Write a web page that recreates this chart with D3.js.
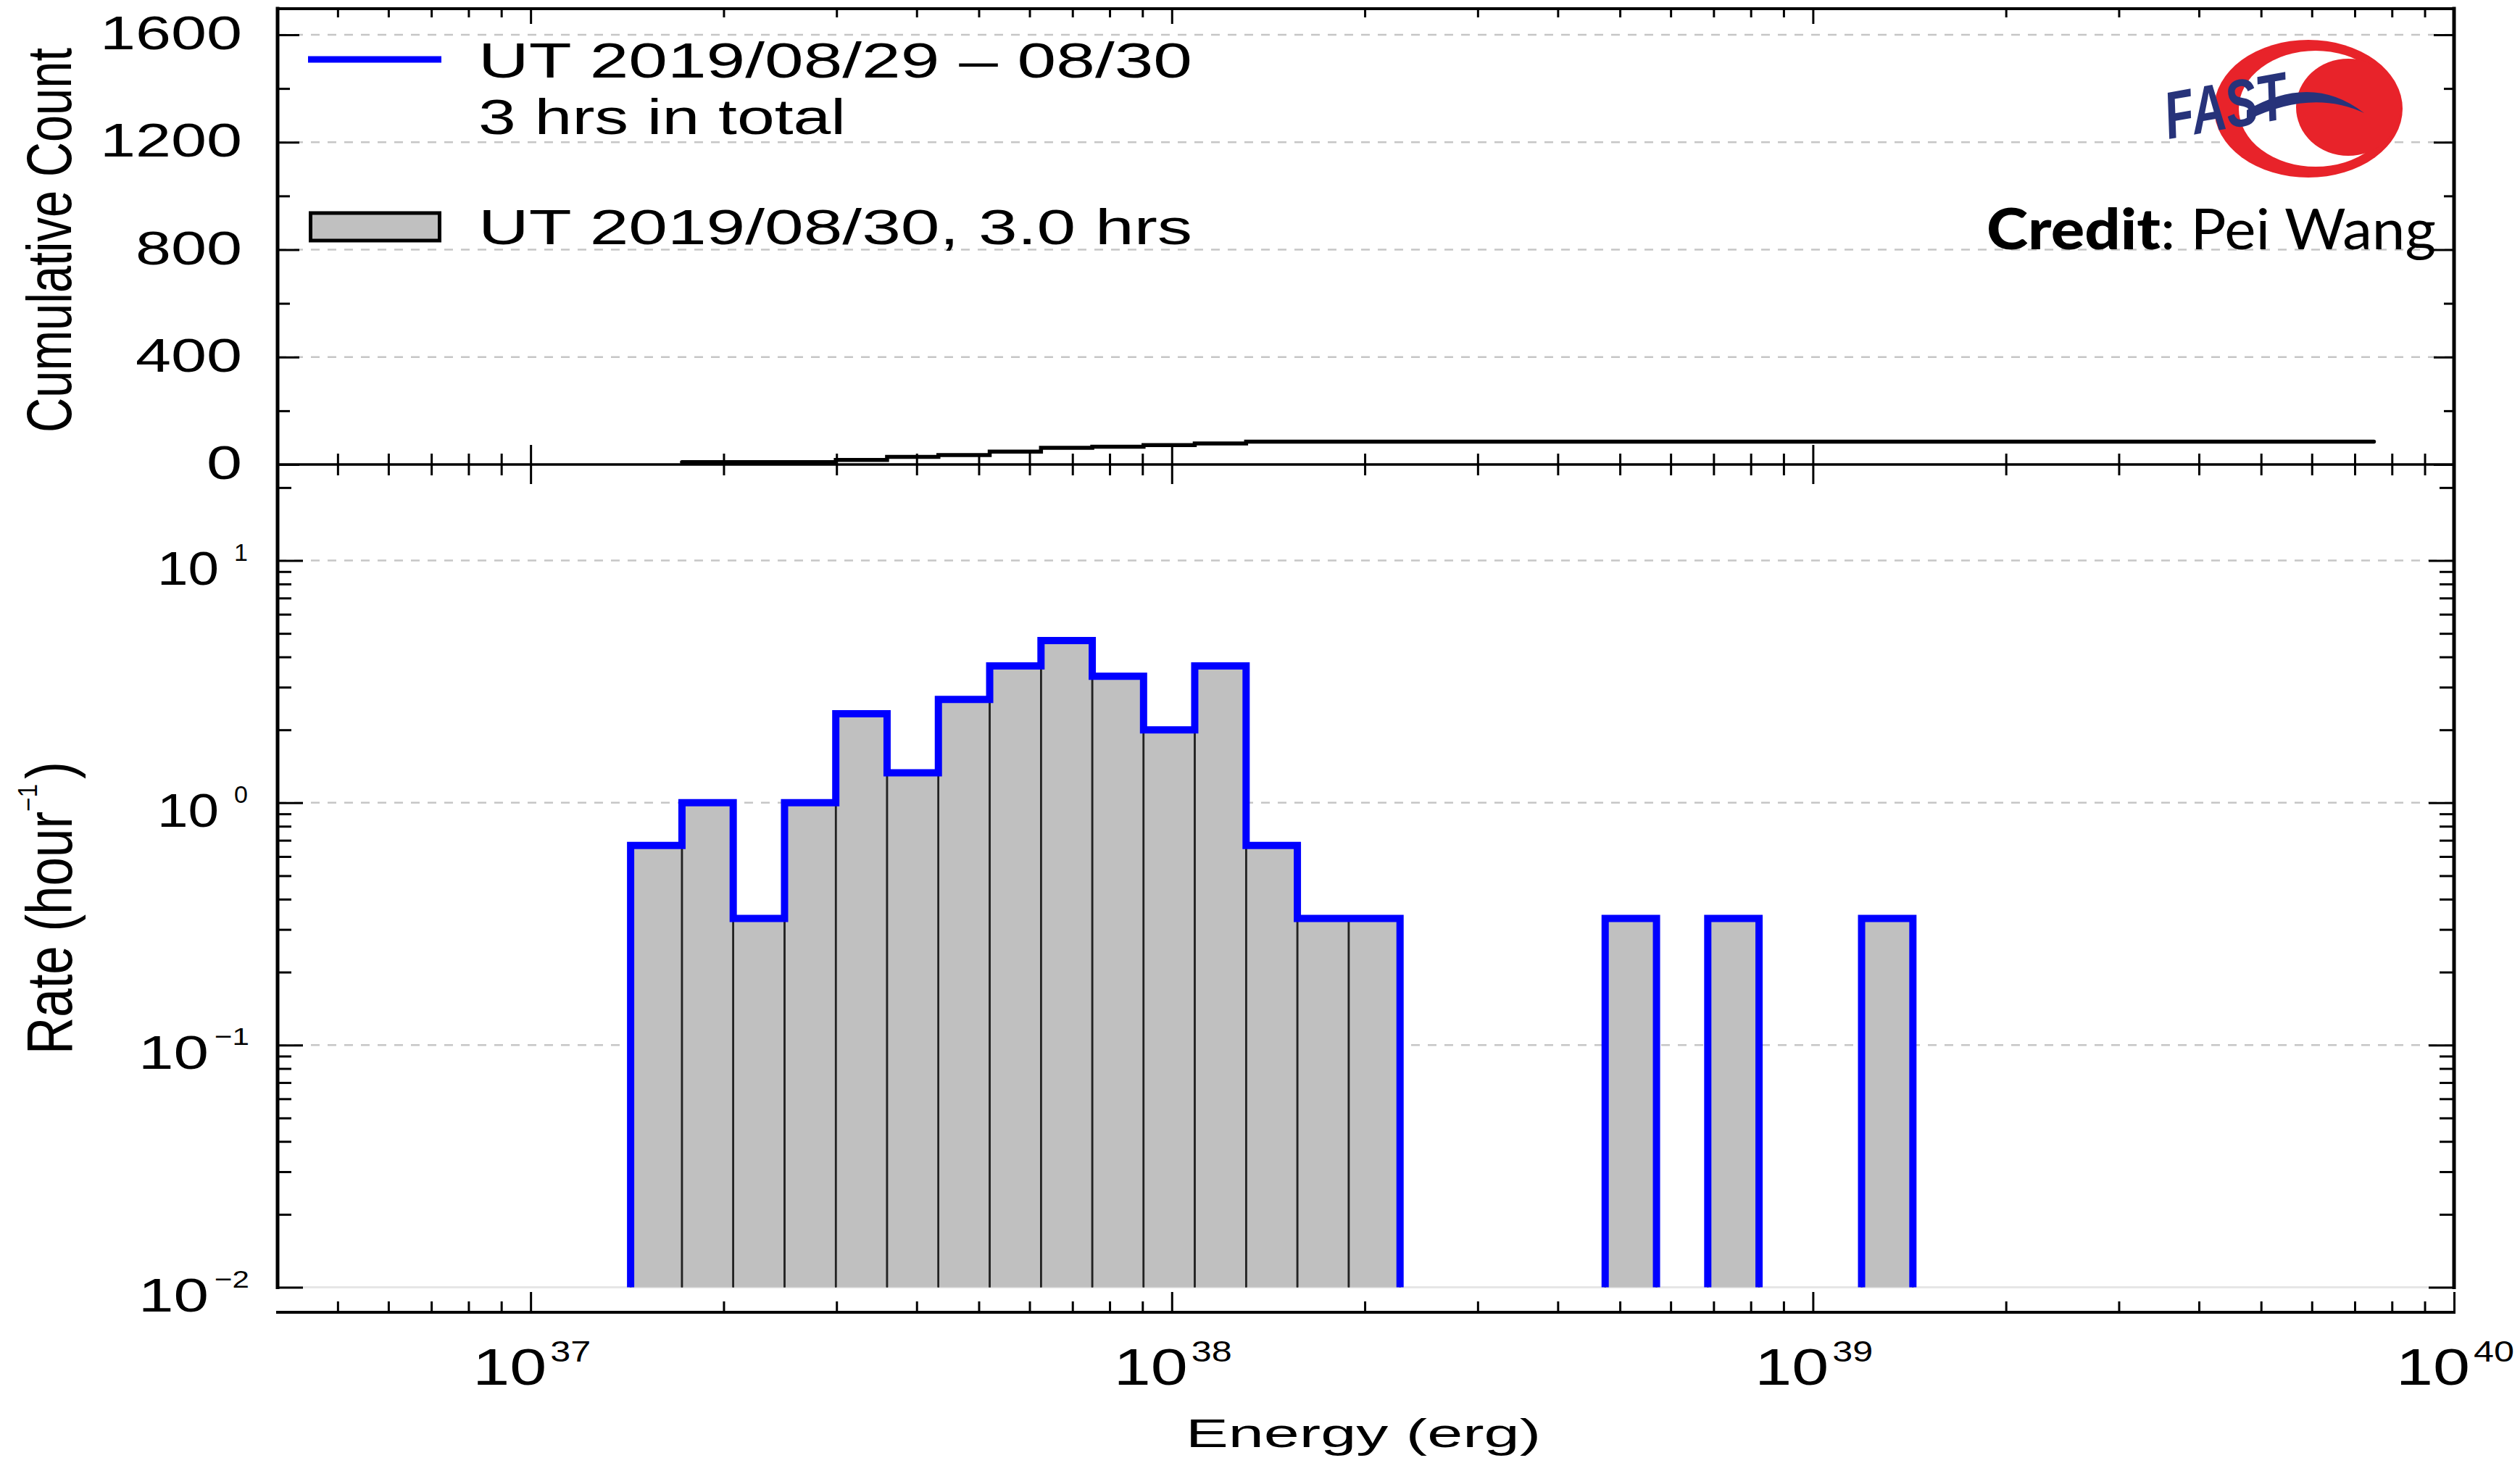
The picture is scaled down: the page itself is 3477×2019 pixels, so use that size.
<!DOCTYPE html>
<html><head><meta charset="utf-8">
<script src="https://cdn.jsdelivr.net/npm/d3@7"></script>
<style>html,body{margin:0;padding:0;background:#fff;} svg{display:block;}</style>
</head><body>
<script>
// ---------------- data ----------------
const binLow  = [1.432e37, 1.722e37, 2.070e37, 2.489e37, 2.992e37, 3.597e37, 4.325e37, 5.200e37, 6.252e37, 7.516e37, 9.036e37, 1.086e38, 1.306e38, 1.570e38, 1.888e38, 4.742e38, 6.855e38, 1.191e39];
const binHigh = [1.722e37, 2.070e37, 2.489e37, 2.992e37, 3.597e37, 4.325e37, 5.200e37, 6.252e37, 7.516e37, 9.036e37, 1.086e38, 1.306e38, 1.570e38, 1.888e38, 2.270e38, 5.702e38, 8.241e38, 1.432e39];
const rate    = [0.667, 1.0, 0.333, 1.0, 2.33, 1.33, 2.67, 3.67, 4.67, 3.33, 2.0, 3.67, 0.667, 0.333, 0.333, 0.333, 0.333, 0.333];
const cumEnergy = [1.722e37, 2.992e37, 3.597e37, 4.325e37, 5.200e37, 6.252e37, 7.516e37, 9.036e37, 1.086e38, 1.306e38, 7.5e39];
const cumCount  = [9, 17, 28, 35, 48, 62, 66, 72, 78, 85, 85];
const countTicks = [0, 400, 800, 1200, 1600];
const countMinor = [200, 600, 1000, 1400];
const countGrid = [400, 800, 1200, 1600];
const rateTicks = [0.01, 0.1, 1, 10];
const rateExp = ["\u22122", "\u22121", "0", "1"];
const energyTicks = [1e37, 1e38, 1e39, 1e40];
const energyExp = ["37", "38", "39", "40"];
const legendLabels = ["UT 2019/08/29 \u2013 08/30", "3 hrs in total", "UT 2019/08/30, 3.0 hrs"];

// ---------------- layout ----------------
const W = 3477, H = 2019;
const L = 383, R = 3386, TOP = 12, MID = 641, LOWB = 1776.5, XAX = 1811;
const FONT = "'Liberation Sans', Arial, Helvetica, sans-serif";

const svg = d3.select("body").append("svg").attr("width", W).attr("height", H)
  .style("font-family", FONT);
svg.append("rect").attr("width", W).attr("height", H).attr("fill", "#fff");

const x = d3.scaleLog().domain([4.03e36, 1e40]).range([L, R]);
const yTop = d3.scaleLinear().domain([0, 1600]).range([MID, 48]);
const yBot = d3.scaleLog().domain([0.01, 10]).range([LOWB, 773.5]);

// ---------------- grid ----------------
const grid = svg.append("g");
grid.selectAll("line.gt").data(countGrid).join("line")
  .attr("x1", L).attr("x2", R).attr("y1", d => yTop(d)).attr("y2", d => yTop(d))
  .attr("stroke", "#c6c6c6").attr("stroke-width", 2.5).attr("stroke-dasharray", "12,11");
grid.selectAll("line.gb").data(rateTicks.filter(d => d > 0.01)).join("line")
  .attr("x1", L).attr("x2", R).attr("y1", d => yBot(d)).attr("y2", d => yBot(d))
  .attr("stroke", "#c6c6c6").attr("stroke-width", 2.5).attr("stroke-dasharray", "12,11");
svg.append("line").attr("x1", L).attr("x2", R).attr("y1", yBot(0.01)).attr("y2", yBot(0.01))
  .attr("stroke", "#e6e6e6").attr("stroke-width", 3);

// ---------------- histogram ----------------
const bins = binLow.map((lo, i) => ({lo, hi: binHigh[i], r: rate[i]}));
const hist = svg.append("g");
hist.selectAll("rect").data(bins).join("rect")
  .attr("x", d => x(d.lo)).attr("width", d => x(d.hi) - x(d.lo))
  .attr("y", d => yBot(d.r)).attr("height", d => yBot(0.01) - yBot(d.r))
  .attr("fill", "#c0c0c0");
const edges = [];
bins.forEach(d => { edges.push({e: d.lo, r: d.r}); edges.push({e: d.hi, r: d.r}); });
hist.selectAll("line").data(edges).join("line")
  .attr("x1", d => x(d.e)).attr("x2", d => x(d.e))
  .attr("y1", yBot(0.01)).attr("y2", d => yBot(d.r))
  .attr("stroke", "#222").attr("stroke-width", 2.5);

// blue outline runs
const runs = []; let cur = null;
bins.forEach((b, i) => {
  if (cur && Math.abs(b.lo / bins[i - 1].hi - 1) < 1e-3) cur.push(b);
  else { cur = [b]; runs.push(cur); }
});
runs.forEach(run => {
  const p = d3.path();
  p.moveTo(x(run[0].lo), yBot(0.01));
  run.forEach(b => { p.lineTo(x(b.lo), yBot(b.r)); p.lineTo(x(b.hi), yBot(b.r)); });
  p.lineTo(x(run[run.length - 1].hi), yBot(0.01));
  svg.append("path").attr("d", p.toString()).attr("fill", "none")
    .attr("stroke", "#0000ff").attr("stroke-width", 10).attr("stroke-linejoin", "miter");
});

// ---------------- cumulative line ----------------
const cumPts = cumEnergy.map((e, i) => [e, cumCount[i]]);
svg.append("path").datum(cumPts)
  .attr("d", d3.line().x(d => x(d[0])).y(d => yTop(d[1])).curve(d3.curveStepAfter))
  .attr("fill", "none").attr("stroke", "#000").attr("stroke-width", 5.5).attr("stroke-linecap", "round");

// ---------------- axes / ticks ----------------
function ticks(axisFn, scale, vals, size, tx, ty, sw) {
  const g = svg.append("g").attr("transform", `translate(${tx},${ty})`)
    .call(axisFn(scale).tickValues(vals).tickSize(size).tickFormat(""));
  g.select(".domain").remove();
  g.selectAll("line").attr("stroke", "#000").attr("stroke-width", sw || 3);
  g.selectAll("text").remove();
  return g;
}
const isPow = v => Math.abs(Math.log10(v) - Math.round(Math.log10(v))) < 1e-6;
const xMinor = x.ticks().filter(v => !isPow(v));
const yMinor = yBot.ticks().filter(v => !isPow(v)).concat([20]);

// top border (ticks down)
ticks(d3.axisBottom, x, energyTicks, 21, 0, TOP);
ticks(d3.axisBottom, x, xMinor, 12, 0, TOP);
// middle line, crossing ticks
ticks(d3.axisTop, x, energyTicks, 27, 0, MID);
ticks(d3.axisBottom, x, energyTicks, 27, 0, MID);
ticks(d3.axisTop, x, xMinor, 15, 0, MID);
ticks(d3.axisBottom, x, xMinor, 15, 0, MID);
// bottom energy axis (ticks up)
ticks(d3.axisTop, x, energyTicks, 28, 0, XAX);
ticks(d3.axisTop, x, xMinor, 15, 0, XAX);
// top panel y
ticks(d3.axisRight, yTop, countTicks, 30, L, 0);
ticks(d3.axisRight, yTop, countMinor, 17, L, 0);
ticks(d3.axisLeft, yTop, countTicks, 28, R, 0);
ticks(d3.axisLeft, yTop, countMinor, 14, R, 0);
// lower panel y
ticks(d3.axisRight, yBot, rateTicks, 35, L, 0);
ticks(d3.axisRight, yBot, yMinor, 19, L, 0);
ticks(d3.axisLeft, yBot, rateTicks, 35, R, 0);
ticks(d3.axisLeft, yBot, yMinor, 20, R, 0);

// frame lines
const frame = svg.append("g").attr("stroke", "#000").attr("stroke-linecap", "square");
frame.append("line").attr("x1", L).attr("x2", R).attr("y1", TOP).attr("y2", TOP).attr("stroke-width", 4);
frame.append("line").attr("x1", L).attr("x2", R).attr("y1", MID).attr("y2", MID).attr("stroke-width", 3.5);
frame.append("line").attr("x1", L).attr("x2", R).attr("y1", XAX).attr("y2", XAX).attr("stroke-width", 4);
frame.append("line").attr("x1", L).attr("x2", L).attr("y1", TOP).attr("y2", LOWB).attr("stroke-width", 5);
frame.append("line").attr("x1", R).attr("x2", R).attr("y1", TOP).attr("y2", LOWB).attr("stroke-width", 5);

// ---------------- text helper ----------------
function txt(parent, s, xx, yy, size, len, attrs) {
  const t = parent.append("text").attr("x", xx).attr("y", yy).attr("font-size", size)
    .attr("fill", "#000").text(s);
  if (len) t.attr("textLength", len).attr("lengthAdjust", "spacingAndGlyphs");
  if (attrs) Object.entries(attrs).forEach(([k, v]) => t.attr(k, v));
  return t;
}

// top-panel tick labels
countTicks.forEach(v => {
  const s = String(v), len = s.length * 49;
  txt(svg, s, 334 - len, yTop(v) + 20, 64, len);
});
// lower-panel tick labels
rateTicks.forEach((v, i) => {
  const neg = rateExp[i].startsWith("\u2212");
  txt(svg, "10", neg ? 191 : 217, yBot(v) + 33, 64, neg ? 97 : 85);
  txt(svg, rateExp[i], neg ? 296 : 323, yBot(v) + 0, 34, neg ? 48 : null);
});
// energy tick labels
energyTicks.forEach((v, i) => {
  txt(svg, "10", x(v) - 80, 1911, 70, 102);
  txt(svg, energyExp[i], x(v) + 27, 1879, 40, 56);
});
// axis titles
txt(svg, "Energy (erg)", 1636, 1997, 56, 490);
const gc = svg.append("g").attr("transform", "translate(98,597) rotate(-90)");
txt(gc, "Cumulative Count", 0, 0, 88, 531);
const gr = svg.append("g").attr("transform", "translate(99,1455) rotate(-90)");
txt(gr, "Rate (hour", 0, 0, 89, 335);
txt(gr, "\u22121", 335, -48, 36, 38);
txt(gr, ")", 380, 0, 89, 24);

// ---------------- legend ----------------
svg.append("line").attr("x1", 425).attr("x2", 609).attr("y1", 82).attr("y2", 82)
  .attr("stroke", "#0000ff").attr("stroke-width", 9);
svg.append("rect").attr("x", 428.5).attr("y", 294).attr("width", 178).attr("height", 38)
  .attr("fill", "#c0c0c0").attr("stroke", "#000").attr("stroke-width", 5);
txt(svg, legendLabels[0], 660, 107, 68, 985);
txt(svg, legendLabels[1], 660, 185, 68, 507);
txt(svg, legendLabels[2], 660, 337, 68, 985);

// ---------------- logo & credit ----------------
const logo = svg.append("g");
logo.append("ellipse").attr("cx", 3185).attr("cy", 150).attr("rx", 130).attr("ry", 95).attr("fill", "#e8232a");
logo.append("ellipse").attr("cx", 3195).attr("cy", 150).attr("rx", 106).attr("ry", 80).attr("fill", "#fff");
logo.append("ellipse").attr("cx", 3240).attr("cy", 148).attr("rx", 72).attr("ry", 67).attr("fill", "#e8232a");
logo.append("path").attr("d", "M3100,152 Q3190,100 3262,156 Q3190,122 3100,166 Z").attr("fill", "#27337a");
txt(logo, "FAST", 2992, 192, 92, 170, {"font-style": "italic", "font-weight": "bold", "fill": "#27337a",
  "transform": "rotate(-10 2992 192)"});

txt(svg, "Credit", 2741, 344, 78, 240, {"font-family": "Lato, 'Open Sans', sans-serif", "font-weight": 900});
txt(svg, ": Pei Wang", 2981, 344, 78, 380, {"font-family": "Lato, 'Open Sans', sans-serif"});
</script>
</body></html>
